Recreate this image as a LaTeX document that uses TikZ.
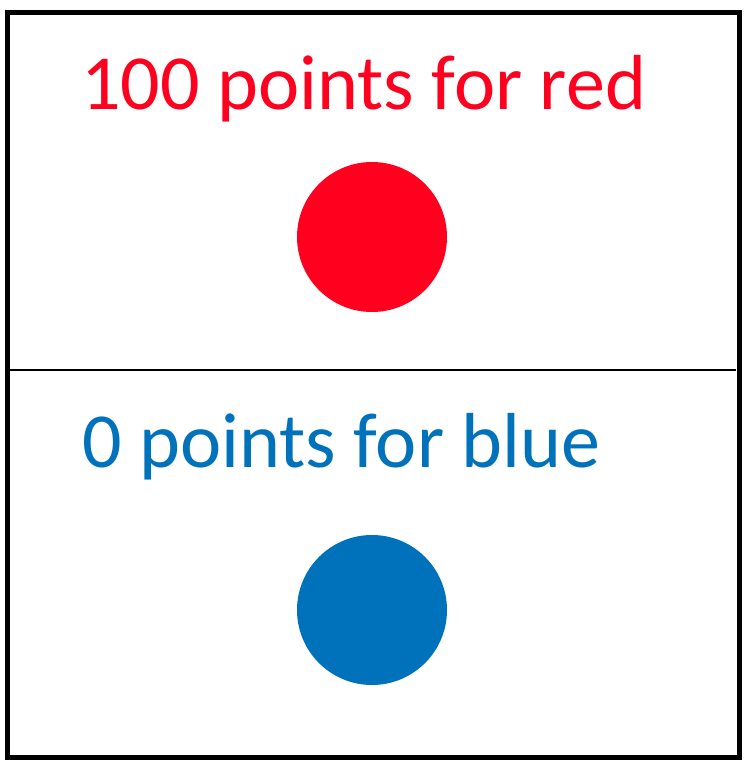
\documentclass[tikz,border=0pt]{standalone}
\usepackage{fontspec}
\setmainfont{Carlito}
\definecolor{myred}{RGB}{255,0,30}
\definecolor{myblue}{RGB}{0,114,187}
\begin{document}
\begin{tikzpicture}[x=1pt,y=-1pt,
  frame/.style={draw=black,line width=5pt},
  divider/.style={draw=black,line width=2pt},
  label/.style={anchor=base west,inner sep=0pt,font=\fontsize{78}{80}\selectfont},
  dot/.style={circle,minimum size=150pt,inner sep=0pt}]
\useasboundingbox (0,0) rectangle (751,767);
\draw[frame] (7.5,12.5) rectangle (739,757);
\draw[divider] (10,370) -- (736,370);
\node[label,text=myred] (t1) at (81,110) {100 points for red};
\node[label,text=myblue] (t2) at (82,467) {0 points for blue};
\node[dot,fill=myred] (c1) at (372,237) {};
\node[dot,fill=myblue] (c2) at (372,610) {};
\end{tikzpicture}
\end{document}
